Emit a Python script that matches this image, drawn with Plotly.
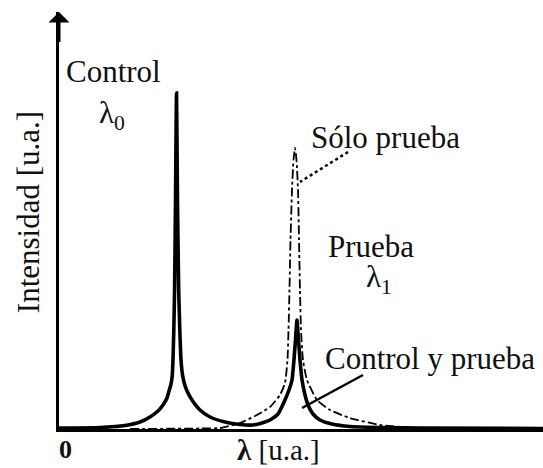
import plotly.graph_objects as go

# Wavelength (arbitrary units, 0-100) and intensity (% of control peak)
solid_x = [0, 8.47, 13.64, 16.74, 18.80, 20.45, 21.49, 22.31, 22.73, 23.14, 23.41, 23.55, 23.72,
           23.88, 24.07, 24.28, 24.48, 24.73, 24.96, 25.21, 25.52, 25.93, 26.45, 27.48, 29.13,
           31.20, 34.30, 37.40, 40.08, 41.94, 43.60, 45.25, 46.69, 47.52, 48.14, 48.55, 48.86,
           49.17, 49.48, 49.79, 50.21, 50.83, 51.45, 52.48, 53.93, 56.40, 60.12, 66.32, 74.59, 100]
solid_y = [0.30, 0.45, 1.04, 2.08, 3.57, 5.36, 7.14, 9.23, 11.31, 13.39, 16.07, 20.54, 29.46,
           41.37, 68.15, 100, 68.15, 41.37, 29.46, 20.54, 16.07, 13.39, 11.31, 8.63, 5.65,
           3.57, 2.08, 1.34, 1.19, 1.79, 2.68, 4.46, 8.63, 11.61, 14.58, 20.54, 26.49,
           32.44, 26.49, 20.54, 14.58, 10.12, 7.14, 4.46, 2.68, 1.49, 0.74, 0.45, 0.30, 0.15]

probe_x = [14.67, 29.13, 33.26, 37.40, 40.50, 43.60, 45.66, 46.69, 47.21, 47.42, 47.62, 47.83,
           48.14, 48.45, 48.76, 49.07, 49.38, 49.59, 49.79, 50.00, 50.41, 51.24, 53.31, 56.00,
           60.12, 66.32, 72.52, 78.72]
probe_y = [0, 0.15, 0.30, 1.79, 3.87, 6.55, 10.12, 13.69, 20.54, 29.46, 41.37, 56.25,
           71.13, 80.06, 83.63, 80.06, 71.13, 56.25, 41.37, 29.46, 20.54, 14.58, 8.63, 5.65,
           3.27, 1.19, 0.45, 0.15]

X_RANGE = [0, 100]
Y_RANGE = [0, 124.1]

SERIF = "Liberation Serif"
INK = "#111111"
FS = 31

fig = go.Figure()
fig.add_trace(go.Scatter(x=probe_x, y=probe_y, mode="lines",
                         line=dict(color="black", width=1.8, dash="dashdot", shape="spline", smoothing=0.5),
                         hoverinfo="skip", showlegend=False))
fig.add_trace(go.Scatter(x=solid_x, y=solid_y, mode="lines",
                         line=dict(color="black", width=3.6, shape="spline", smoothing=0.5),
                         hoverinfo="skip", showlegend=False))

def txt(x, y, s, size=FS, ref="", **kw):
    fig.add_annotation(x=x, y=y, xref="paper" if ref else "x", yref="paper" if ref else "y",
                       text=s, showarrow=False,
                       font=dict(family=SERIF, size=size, color=INK),
                       xanchor="center", yanchor="middle", **kw)

txt(11.36, 106.5, "Control")
txt(11.0, 93.5, "λ<sub>0</sub>")
txt(67.56, 86.8, "Sólo prueba")
txt(64.46, 54.4, "Prueba")
txt(66.1, 44.6, "λ<sub>1</sub>")
txt(76.65, 20.9, "Control y prueba")
txt(0.0124, -0.048, "<b>0</b>", size=26, ref="p")
txt(0.4525, -0.0504, "<b>λ</b> [u.a.]", size=29, ref="p")
txt(-0.064, 0.52, "Intensidad [u.a.]", ref="p", textangle=-90)

# leader lines
fig.add_shape(type="line", x0=59.71, y0=82.44, x1=49.79, y1=73.51,
              line=dict(color="black", width=2.5, dash="dot"))
fig.add_shape(type="line", x0=62.81, y0=16.07, x1=50.21, y1=6.25,
              line=dict(color="black", width=2.5))

# y-axis arrow head
fig.add_annotation(x=0, y=Y_RANGE[1], xref="x", yref="y", ax=0, ay=40,
                   showarrow=True, arrowhead=1, arrowwidth=3, arrowsize=1.17,
                   arrowcolor="black", text=" ")

fig.update_xaxes(range=X_RANGE, showline=True, linewidth=3, linecolor="black",
                 showgrid=False, zeroline=False, showticklabels=False, ticks="")
fig.update_yaxes(range=Y_RANGE, showline=True, linewidth=3, linecolor="black",
                 showgrid=False, zeroline=False, showticklabels=False, ticks="")
fig.update_layout(width=543, height=468, margin=dict(l=59, r=0, t=12, b=39),
                  plot_bgcolor="white", paper_bgcolor="white")

fig.write_html("out.html")
